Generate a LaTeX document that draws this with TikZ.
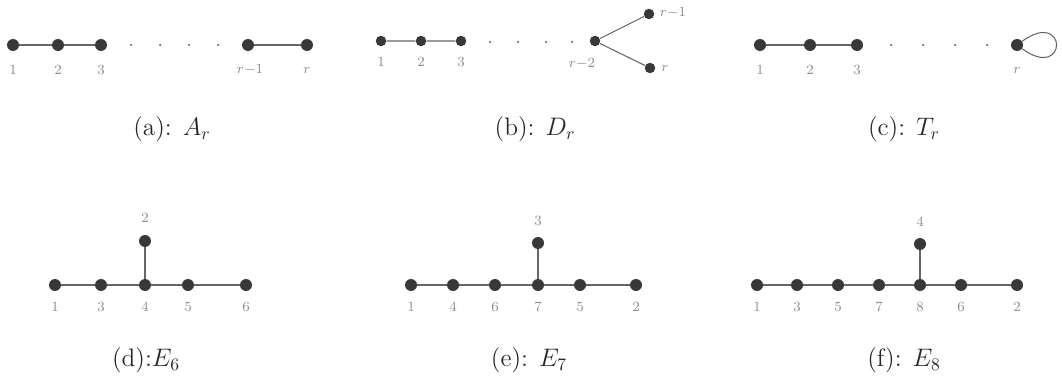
\documentclass[tikz,border=0pt]{standalone}
\usepackage{amsmath}
\begin{document}
\begin{tikzpicture}[x=0.02cm,y=-0.02cm,
    vtx/.style={circle,fill=black!78,inner sep=0pt,minimum size=0.24cm},
    svtx/.style={circle,fill=black!78,inner sep=0pt,minimum size=0.21cm},
    pt/.style={circle,fill=black!55,inner sep=0pt,minimum size=0.05cm},
    lbl/.style={text=black!45,font=\footnotesize,inner sep=1pt},
    captxt/.style={text=black!85,font=\Large,inner sep=1pt},
    edge/.style={draw=black!60,line width=0.6pt}]
    \useasboundingbox (0,0) rectangle (1062,385);
    % (a) A_r
    \node[vtx] (a1) at (13,45) {};
    \node[vtx] (a2) at (58,45) {};
    \node[vtx] (a3) at (101,45) {};
    \node[pt] (ad1) at (131,45) {};
    \node[pt] (ad2) at (160,45) {};
    \node[pt] (ad3) at (189,45) {};
    \node[pt] (ad4) at (218,45) {};
    \node[vtx] (ar1) at (248,45) {};
    \node[vtx] (ar) at (307,45) {};
    \draw[edge] (a1)--(a2)--(a3) (ar1)--(ar);
    \node[lbl] at (13,70) {1};
    \node[lbl] at (58,70) {2};
    \node[lbl] at (101,70) {3};
    \node[lbl] at (250,70) {$r{-}1$};
    \node[lbl] at (307,70) {$r$};
    \node[captxt] (capa) at (172,129) {(a): $A_r$};
    % (b) D_r
    \node[svtx] (b1) at (381,41) {};
    \node[svtx] (b2) at (421,41) {};
    \node[svtx] (b3) at (461,41) {};
    \node[pt] (bd1) at (490,42) {};
    \node[pt] (bd2) at (518,42) {};
    \node[pt] (bd3) at (546,42) {};
    \node[pt] (bd4) at (572,42) {};
    \node[svtx] (br2) at (595,41) {};
    \node[svtx] (br1) at (649,14) {};
    \node[svtx] (br) at (650,68) {};
    \draw[edge] (b1)--(b2)--(b3) (br1)--(br2)--(br);
    \node[lbl] at (381,62) {1};
    \node[lbl] at (421,62) {2};
    \node[lbl] at (461,62) {3};
    \node[lbl] at (582,64) {$r{-}2$};
    \node[lbl] at (673,13) {$r{-}1$};
    \node[lbl] at (665,68) {$r$};
    \node[captxt] (capb) at (535,129) {(b): $D_r$};
    % (c) T_r
    \node[vtx] (c1) at (760,45) {};
    \node[vtx] (c2) at (810,45) {};
    \node[vtx] (c3) at (857,45) {};
    \node[pt] (cd1) at (891,45) {};
    \node[pt] (cd2) at (923,45) {};
    \node[pt] (cd3) at (955,45) {};
    \node[pt] (cd4) at (987,45) {};
    \node[vtx] (cr) at (1017,45) {};
    \draw[edge] (c1)--(c2)--(c3);
    \draw[edge] (cr) .. controls (1068,8) and (1068,82) .. (cr);
    \node[lbl] at (760,70) {1};
    \node[lbl] at (810,70) {2};
    \node[lbl] at (857,70) {3};
    \node[lbl] at (1017,70) {$r$};
    \node[captxt] (capc) at (904,129) {(c): $T_r$};
    % (d) E_6
    \node[vtx] (d1) at (55,285) {};
    \node[vtx] (d3) at (101,285) {};
    \node[vtx] (d4) at (145,285) {};
    \node[vtx] (d5) at (188,285) {};
    \node[vtx] (d6) at (246,285) {};
    \node[vtx] (d2) at (145,241) {};
    \draw[edge] (d1)--(d3)--(d4)--(d5)--(d6) (d4)--(d2);
    \node[lbl] at (55,307) {1};
    \node[lbl] at (101,307) {3};
    \node[lbl] at (145,307) {4};
    \node[lbl] at (188,307) {5};
    \node[lbl] at (246,307) {6};
    \node[lbl] at (145,218) {2};
    \node[captxt] (capd) at (146,360) {(d):$E_6$};
    % (e) E_7
    \node[vtx] (e1) at (411,285) {};
    \node[vtx] (e4) at (453,285) {};
    \node[vtx] (e6) at (495,285) {};
    \node[vtx] (e7) at (538,285) {};
    \node[vtx] (e5) at (580,285) {};
    \node[vtx] (e2) at (636,285) {};
    \node[vtx] (e3) at (538,243) {};
    \draw[edge] (e1)--(e4)--(e6)--(e7)--(e5)--(e2) (e7)--(e3);
    \node[lbl] at (411,307) {1};
    \node[lbl] at (453,307) {4};
    \node[lbl] at (495,307) {6};
    \node[lbl] at (538,307) {7};
    \node[lbl] at (580,307) {5};
    \node[lbl] at (636,307) {2};
    \node[lbl] at (538,221) {3};
    \node[captxt] (cape) at (529,360) {(e): $E_7$};
    % (f) E_8
    \node[vtx] (f1) at (757,285) {};
    \node[vtx] (f3) at (797,285) {};
    \node[vtx] (f5) at (838,285) {};
    \node[vtx] (f7) at (879,285) {};
    \node[vtx] (f8) at (920,285) {};
    \node[vtx] (f6) at (961,285) {};
    \node[vtx] (f2) at (1017,285) {};
    \node[vtx] (f4) at (920,244) {};
    \draw[edge] (f1)--(f3)--(f5)--(f7)--(f8)--(f6)--(f2) (f8)--(f4);
    \node[lbl] at (757,307) {1};
    \node[lbl] at (797,307) {3};
    \node[lbl] at (838,307) {5};
    \node[lbl] at (879,307) {7};
    \node[lbl] at (920,307) {8};
    \node[lbl] at (961,307) {6};
    \node[lbl] at (1017,307) {2};
    \node[lbl] at (920,222) {4};
    \node[captxt] (capf) at (904,360) {(f): $E_8$};
\end{tikzpicture}
\end{document}
